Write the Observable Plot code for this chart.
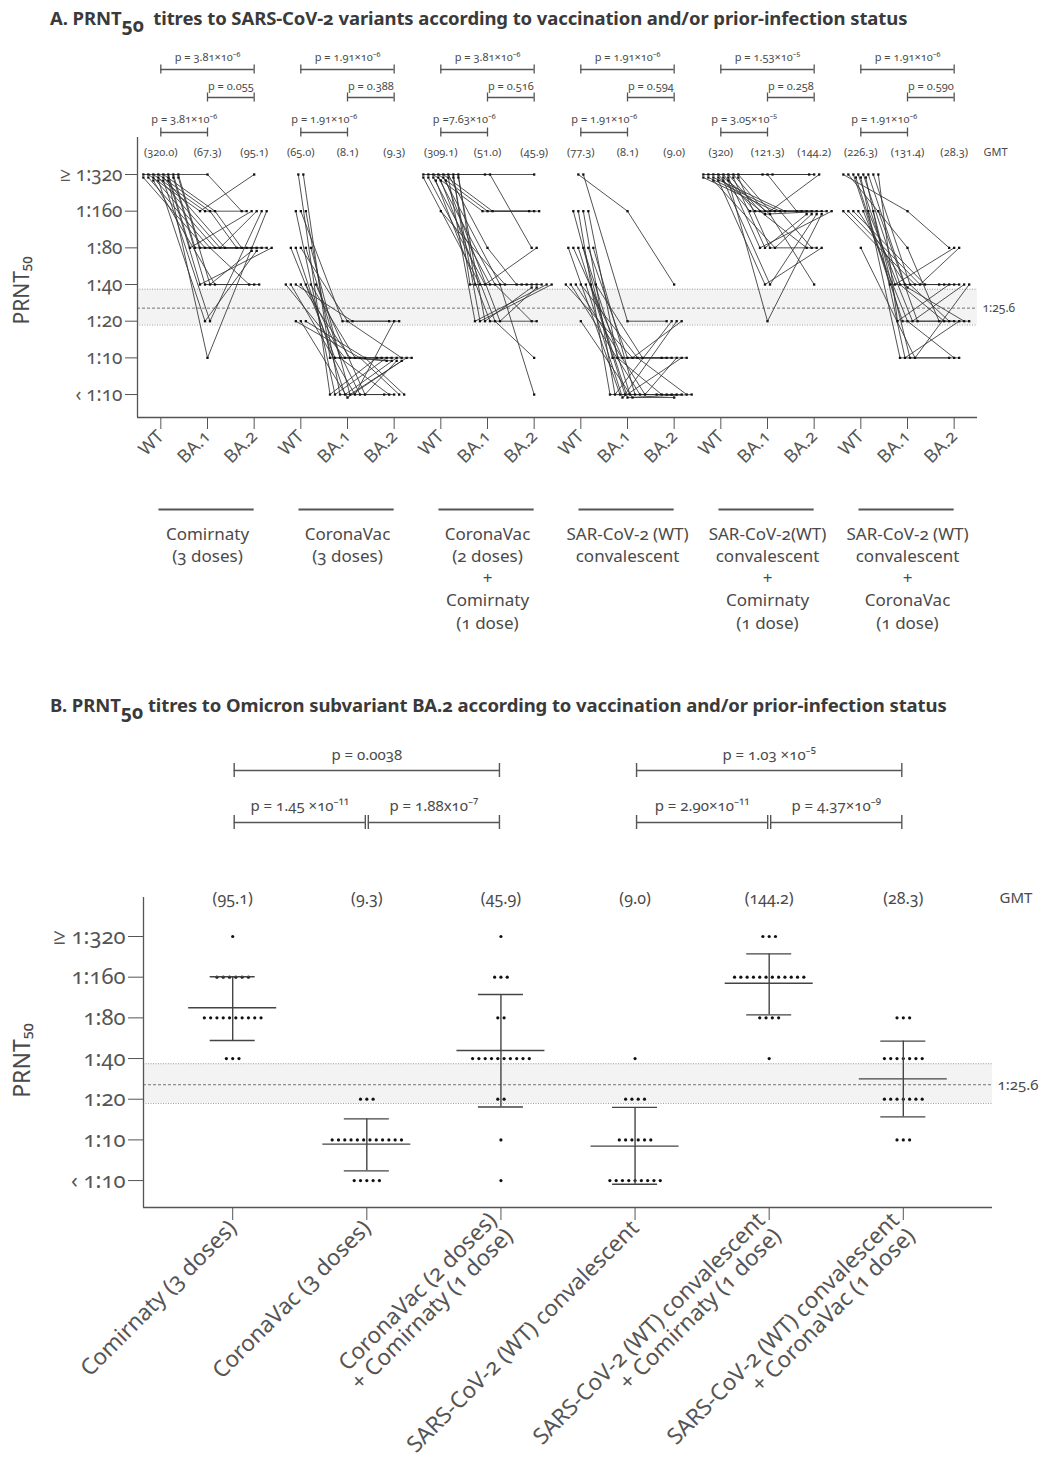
<!DOCTYPE html>
<html><head><meta charset="utf-8">
<script src="https://cdn.jsdelivr.net/npm/d3@7"></script>
<script src="https://cdn.jsdelivr.net/npm/@observablehq/plot@0.6"></script>
<style>
body{margin:0;background:#fff;}
#root{position:relative;width:1042px;height:1468px;font-family:"Noto Sans",sans-serif;color:#444;font-variant-numeric:oldstyle-nums;background:#fff;overflow:hidden;}
.title{position:absolute;left:50px;font-weight:bold;font-size:18.5px;white-space:nowrap;color:#3a3a3a;line-height:22px;letter-spacing:-0.1px;}
.title sub{font-size:1.05em;vertical-align:-0.35em;line-height:0;}
#panelA{position:absolute;left:0;top:40px;}
#panelB{position:absolute;left:0;top:740px;}
svg text{font-variant-numeric:oldstyle-nums;}
</style></head>
<body><div id="root">
<div class="title" style="top:7px">A. PRNT<sub>50</sub>&nbsp; titres to SARS-CoV-2 variants according to vaccination and/or prior-infection status</div>
<div id="panelA"></div>
<div class="title" style="top:694px">B. PRNT<sub>50</sub> titres to Omicron subvariant BA.2 according to vaccination and/or prior-infection status</div>
<div id="panelB"></div>
</div>
<script>
// ---------------- DATA ----------------
const variants = ["WT", "BA.1", "BA.2"];
const groupsA = [
  "Comirnaty\n(3 doses)",
  "CoronaVac\n(3 doses)",
  "CoronaVac\n(2 doses)\n+\nComirnaty\n(1 dose)",
  "SAR-CoV-2 (WT)\nconvalescent",
  "SAR-CoV-2(WT)\nconvalescent\n+\nComirnaty\n(1 dose)",
  "SAR-CoV-2 (WT)\nconvalescent\n+\nCoronaVac\n(1 dose)"
];
const groupsB = [
  "Comirnaty (3 doses)",
  "CoronaVac (3 doses)",
  "CoronaVac (2 doses)\n+ Comirnaty (1 dose)",
  "SARS-CoV-2 (WT) convalescent",
  "SARS-CoV-2 (WT) convalescent\n+ Comirnaty (1 dose)",
  "SARS-CoV-2 (WT) convalescent\n+ CoronaVac (1 dose)"
];
// titres per subject (5 = "< 1:10", 320 = ">= 1:320")
const titresWT = [
  [320,320,320,320,320,320,320,320,320,320,320,320,320,320,320,320,320,320,320,320],
  [320,320,160,160,160,80,80,80,80,80,40,40,40,40,40,40,40,20,20,20],
  [320,320,320,320,320,320,320,320,320,320,320,320,320,160,320,320,320,320,320,320],
  [320,320,160,160,160,160,80,80,80,80,80,80,40,40,40,40,40,40,40,20],
  [320,320,320,320,320,320,320,320,320,320,320,320,320,320,320,320,320,320,320,320],
  [320,320,320,320,320,320,320,320,320,320,320,160,160,160,160,160,160,160,160,80]
];
const titresBA1 = [
  [320,160,160,160,160,80,80,80,80,80,80,80,80,40,40,40,40,20,20,10],
  [5,10,5,20,5,10,5,20,10,5,10,5,20,10,5,10,5,10,5,10],
  [320,320,160,160,160,80,40,40,40,40,40,40,40,40,20,20,20,20,20,20],
  [160,20,10,5,5,10,5,10,5,5,10,5,10,5,5,10,5,5,10,5],
  [320,320,320,160,160,160,160,160,160,160,160,160,160,80,80,80,80,40,40,20],
  [160,80,40,40,40,40,40,20,20,10,10,40,40,40,40,20,20,10,20,10]
];
const titresBA2 = [
  [160,320,160,80,80,160,80,80,80,40,80,160,80,80,40,80,40,80,160,160],
  [10,10,10,20,5,10,10,10,5,10,10,20,20,10,5,10,10,5,10,5],
  [320,80,160,160,160,40,40,40,40,80,40,20,5,40,40,40,40,20,10,40],
  [40,20,10,5,20,5,5,10,20,5,10,5,20,5,10,5,10,5,10,5],
  [320,160,320,160,160,80,160,320,160,80,160,160,40,160,160,80,160,80,160,160],
  [80,20,40,80,20,40,20,40,20,10,20,40,80,40,20,10,40,10,20,40]
];
const gmtLabelsA = [
  ["(320.0)", "(67.3)", "(95.1)"],
  ["(65.0)", "(8.1)", "(9.3)"],
  ["(309.1)", "(51.0)", "(45.9)"],
  ["(77.3)", "(8.1)", "(9.0)"],
  ["(320)", "(121.3)", "(144.2)"],
  ["(226.3)", "(131.4)", "(28.3)"]
];
const pWT_BA2 = ["p = 3.81×10⁻⁶", "p = 1.91×10⁻⁶", "p = 3.81×10⁻⁶", "p = 1.91×10⁻⁶", "p = 1.53×10⁻⁵", "p = 1.91×10⁻⁶"];
const pBA1_BA2 = ["p = 0.055", "p = 0.388", "p = 0.516", "p = 0.594", "p = 0.258", "p = 0.590"];
const pWT_BA1 = ["p = 3.81×10⁻⁶", "p = 1.91×10⁻⁶", "p =7.63×10⁻⁶", "p = 1.91×10⁻⁶", "p = 3.05×10⁻⁵", "p = 1.91×10⁻⁶"];

const gmtB = [95.1, 9.3, 45.9, 9.0, 144.2, 28.3];
const gmtLabelsB = ["(95.1)", "(9.3)", "(45.9)", "(9.0)", "(144.2)", "(28.3)"];
const ciLowB = [54.4, 5.9, 17.5, 4.7, 84.2, 14.8];
const ciHighB = [161, 14.3, 119, 17.4, 238, 53.8];
const pairsB = [[0, 2], [3, 5], [0, 1], [1, 2], [3, 4], [4, 5]];
const pTextsB = ["p = 0.0038", "p = 1.03 ×10⁻⁵", "p = 1.45 ×10⁻¹¹", "p = 1.88x10⁻⁷", "p = 2.90×10⁻¹¹", "p = 4.37×10⁻⁹"];

const yTickValues = [5, 10, 20, 40, 80, 160, 320];
const yTickLabels = ["‹ 1:10", "1:10", "1:20", "1:40", "1:80", "1:160", "≥ 1:320"];
const threshold = 25.6;
const bandLow = 18.6, bandHigh = 36.6;

// ---------------- STYLE / LAYOUT ----------------
const FONT = '"Noto Sans", "Open Sans", sans-serif';
const GREY = "#555";
const TXT = "#4a4a4a";
const W = 1042;

// ---------------- PANEL A ----------------
const A = {height: 610, mt: 97, mb: 233, ml: 137, mr: 65, xDom: [-0.5, 17.5], yDom: [3.24, 644]};
const pxPerX_A = (W - A.ml - A.mr) / (A.xDom[1] - A.xDom[0]);
const pxPerOct_A = (A.height - A.mt - A.mb) / Math.log2(A.yDom[1] / A.yDom[0]);
const ptsA = [];
[titresWT, titresBA1, titresBA2].forEach((byGroup, v) => {
  byGroup.forEach((arr, g) => {
    const counts = d3.rollup(arr, d => d.length, d => d);
    const seen = new Map();
    arr.forEach((val, s) => {
      const k = seen.get(val) || 0; seen.set(val, k + 1);
      const n = counts.get(val), perRow = 8;
      const row = Math.floor(k / perRow), col = k % perRow;
      const nRow = Math.min(perRow, n - row * perRow);
      const dxPx = (col - (nRow - 1) / 2) * 5;
      const dyPx = row * 3;
      ptsA.push({sid: g + "-" + s, v, x: g * 3 + v + dxPx / pxPerX_A, y: val * Math.pow(2, -dyPx / pxPerOct_A)});
    });
  });
});
ptsA.sort((a, b) => d3.ascending(a.sid, b.sid) || a.v - b.v);
const tickPosA = d3.range(groupsA.length * 3);
const gIdx = d3.range(groupsA.length);
const gmtPtsA = gmtLabelsA.flatMap((row, g) => row.map((t, v) => ({x: g * 3 + v, t})));
const yTopA = A.yDom[1];
const bracketRowsA = [
  {a: 0, b: 2, texts: pWT_BA2, dyLine: -68, dyText: -80},
  {a: 1, b: 2, texts: pBA1_BA2, dyLine: -40, dyText: -51},
  {a: 0, b: 1, texts: pWT_BA1, dyLine: -5, dyText: -18}
];
const bracketMarksA = bracketRowsA.flatMap(row => [
  Plot.ruleY(gIdx, {x1: g => g * 3 + row.a, x2: g => g * 3 + row.b, y: yTopA, dy: row.dyLine, stroke: GREY, strokeWidth: 1.3}),
  Plot.ruleX(gIdx.flatMap(g => [g * 3 + row.a, g * 3 + row.b]), {x: d => d, y1: yTopA, y2: yTopA, insetTop: -4.5, insetBottom: -4.5, dy: row.dyLine, stroke: GREY, strokeWidth: 1.3}),
  Plot.text(gIdx, {x: g => g * 3 + (row.a + row.b) / 2, y: yTopA, text: g => row.texts[g], dy: row.dyText, fontSize: 11, fill: TXT})
]);

const plotA = Plot.plot({
  width: W, height: A.height,
  marginLeft: A.ml, marginRight: A.mr, marginTop: A.mt, marginBottom: A.mb,
  style: {fontFamily: FONT, background: "transparent", color: TXT, overflow: "visible"},
  x: {type: "linear", domain: A.xDom},
  y: {type: "log", base: 2, domain: A.yDom},
  marks: [
    Plot.rect([0], {y1: () => bandLow, y2: () => bandHigh, fill: "#f3f3f3"}),
    Plot.ruleY([bandLow, bandHigh], {stroke: "#888", strokeWidth: 0.8, strokeDasharray: "1,1.5"}),
    Plot.ruleY([threshold], {stroke: "#666", strokeWidth: 0.9, strokeDasharray: "3,2"}),
    Plot.line(ptsA, {x: "x", y: "y", z: "sid", stroke: "#333", strokeWidth: 0.85}),
    Plot.dot(ptsA, {x: "x", y: "y", symbol: "square", r: 1.3, fill: "#111", stroke: null}),
    Plot.axisY({ticks: yTickValues, tickFormat: v => yTickLabels[yTickValues.indexOf(v)], tickSize: 12, tickPadding: 3, fontSize: 19, color: GREY, fontVariant: "oldstyle-nums", label: null}),
    Plot.axisX({ticks: tickPosA, tickFormat: i => variants[i % 3], tickRotate: -45, tickSize: 12, tickPadding: 4, fontSize: 18, color: GREY, label: null}),
    Plot.ruleX([A.xDom[0]], {stroke: GREY, strokeWidth: 1.3}),
    Plot.ruleY([A.yDom[0]], {stroke: GREY, strokeWidth: 1.3}),
    Plot.text([threshold], {y: d => d, text: () => "1:25.6", frameAnchor: "right", textAnchor: "start", dx: 5, fontSize: 12, fill: TXT}),
    Plot.text(["PRNT₅₀"], {frameAnchor: "left", textAnchor: "middle", rotate: -90, dx: -115, dy: 13, fontSize: 21, fill: TXT}),
    Plot.text(gmtPtsA, {x: "x", text: "t", frameAnchor: "top", dy: 11, fontSize: 11, fill: TXT}),
    Plot.text(["GMT"], {frameAnchor: "top-right", textAnchor: "start", dx: 6, dy: 11, fontSize: 11, fill: TXT}),
    ...bracketMarksA,
    Plot.ruleY(gIdx, {x1: g => g * 3 - 0.04, x2: g => g * 3 + 2, y: A.yDom[0], dy: 92, stroke: GREY, strokeWidth: 2}),
    Plot.text(groupsA, {x: (d, i) => i * 3 + 1, frameAnchor: "bottom", lineAnchor: "top", dy: 107, fontSize: 17, lineHeight: 1.3, fill: TXT})
  ]
});
document.getElementById("panelA").append(plotA);

// ---------------- PANEL B ----------------
const B = {height: 728, mt: 157, mb: 261, ml: 143, mr: 50, xDom: [-0.665, 5.665], yDom: [3.16, 622]};
const pxPerX_B = (W - B.ml - B.mr) / (B.xDom[1] - B.xDom[0]);
const ptsB = [];
titresBA2.forEach((arr, g) => {
  const counts = d3.rollup(arr, d => d.length, d => d);
  const seen = new Map();
  arr.forEach(val => {
    const k = seen.get(val) || 0; seen.set(val, k + 1);
    const n = counts.get(val);
    ptsB.push({x: g + (k - (n - 1) / 2) * 6.3 / pxPerX_B, y: val});
  });
});
const yTopB = B.yDom[1];
const bracketMarksB = [[0, 1], [2, 3, 4, 5]].flatMap((idx, r) => {
  const dyLine = r === 0 ? -127 : -75, dyText = r === 0 ? -142 : -91;
  return [
    Plot.ruleY(idx, {x1: i => pairsB[i][0], x2: i => pairsB[i][1], y: yTopB, dy: dyLine, insetLeft: 1.5, insetRight: 1.5, stroke: GREY, strokeWidth: 1.4}),
    Plot.ruleX(idx, {x: i => pairsB[i][0], y1: yTopB, y2: yTopB, insetTop: -7, insetBottom: -7, dx: 1.5, dy: dyLine, stroke: GREY, strokeWidth: 1.4}),
    Plot.ruleX(idx, {x: i => pairsB[i][1], y1: yTopB, y2: yTopB, insetTop: -7, insetBottom: -7, dx: -1.5, dy: dyLine, stroke: GREY, strokeWidth: 1.4}),
    Plot.text(idx, {x: i => (pairsB[i][0] + pairsB[i][1]) / 2, y: yTopB, text: i => pTextsB[i], dy: dyText, fontSize: 15, fill: TXT})
  ];
});
const gB = d3.range(groupsB.length);
const plotB = Plot.plot({
  width: W, height: B.height,
  marginLeft: B.ml, marginRight: B.mr, marginTop: B.mt, marginBottom: B.mb,
  style: {fontFamily: FONT, background: "transparent", color: TXT, overflow: "visible"},
  x: {type: "linear", domain: B.xDom},
  y: {type: "log", base: 2, domain: B.yDom},
  marks: [
    Plot.rect([0], {y1: () => bandLow, y2: () => bandHigh, fill: "#f3f3f3"}),
    Plot.ruleY([bandLow, bandHigh], {stroke: "#888", strokeWidth: 0.8, strokeDasharray: "1,1.5"}),
    Plot.ruleY([threshold], {stroke: "#666", strokeWidth: 0.9, strokeDasharray: "3,2"}),
    Plot.dot(ptsB, {x: "x", y: "y", r: 1.6, fill: "#111", stroke: null}),
    Plot.ruleX(gB, {x: i => i, y1: i => ciLowB[i], y2: i => ciHighB[i], stroke: "#444", strokeWidth: 1.4}),
    Plot.ruleY(gB, {x1: i => i, x2: i => i, y: i => gmtB[i], insetLeft: -44, insetRight: -44, stroke: "#444", strokeWidth: 1.4}),
    Plot.ruleY(gB, {x1: i => i, x2: i => i, y: i => ciLowB[i], insetLeft: -22.5, insetRight: -22.5, stroke: "#444", strokeWidth: 1.4}),
    Plot.ruleY(gB, {x1: i => i, x2: i => i, y: i => ciHighB[i], insetLeft: -22.5, insetRight: -22.5, stroke: "#444", strokeWidth: 1.4}),
    Plot.axisY({ticks: yTickValues, tickFormat: v => yTickLabels[yTickValues.indexOf(v)], tickSize: 15, tickPadding: 3, fontSize: 22, color: GREY, fontVariant: "oldstyle-nums", label: null}),
    Plot.axisX({ticks: gB, tickFormat: i => groupsB[i], tickRotate: -45, tickSize: 13, tickPadding: 4, fontSize: 22.5, color: GREY, label: null}),
    Plot.ruleX([B.xDom[0]], {stroke: GREY, strokeWidth: 1.3}),
    Plot.ruleY([B.yDom[0]], {stroke: GREY, strokeWidth: 1.3}),
    Plot.text([threshold], {y: d => d, text: () => "1:25.6", frameAnchor: "right", textAnchor: "start", dx: 5, fontSize: 15, fill: TXT}),
    Plot.text(["PRNT₅₀"], {frameAnchor: "left", textAnchor: "middle", rotate: -90, dx: -121, dy: 8, fontSize: 23, fill: TXT}),
    Plot.text(gB, {x: i => i, text: i => gmtLabelsB[i], frameAnchor: "top", dy: -5, fontSize: 16, fill: TXT}),
    Plot.text(["GMT"], {frameAnchor: "top-right", textAnchor: "start", dx: 7, dy: -5, fontSize: 15, fill: TXT}),
    ...bracketMarksB
  ]
});
document.getElementById("panelB").append(plotB);
</script>
</body></html>
